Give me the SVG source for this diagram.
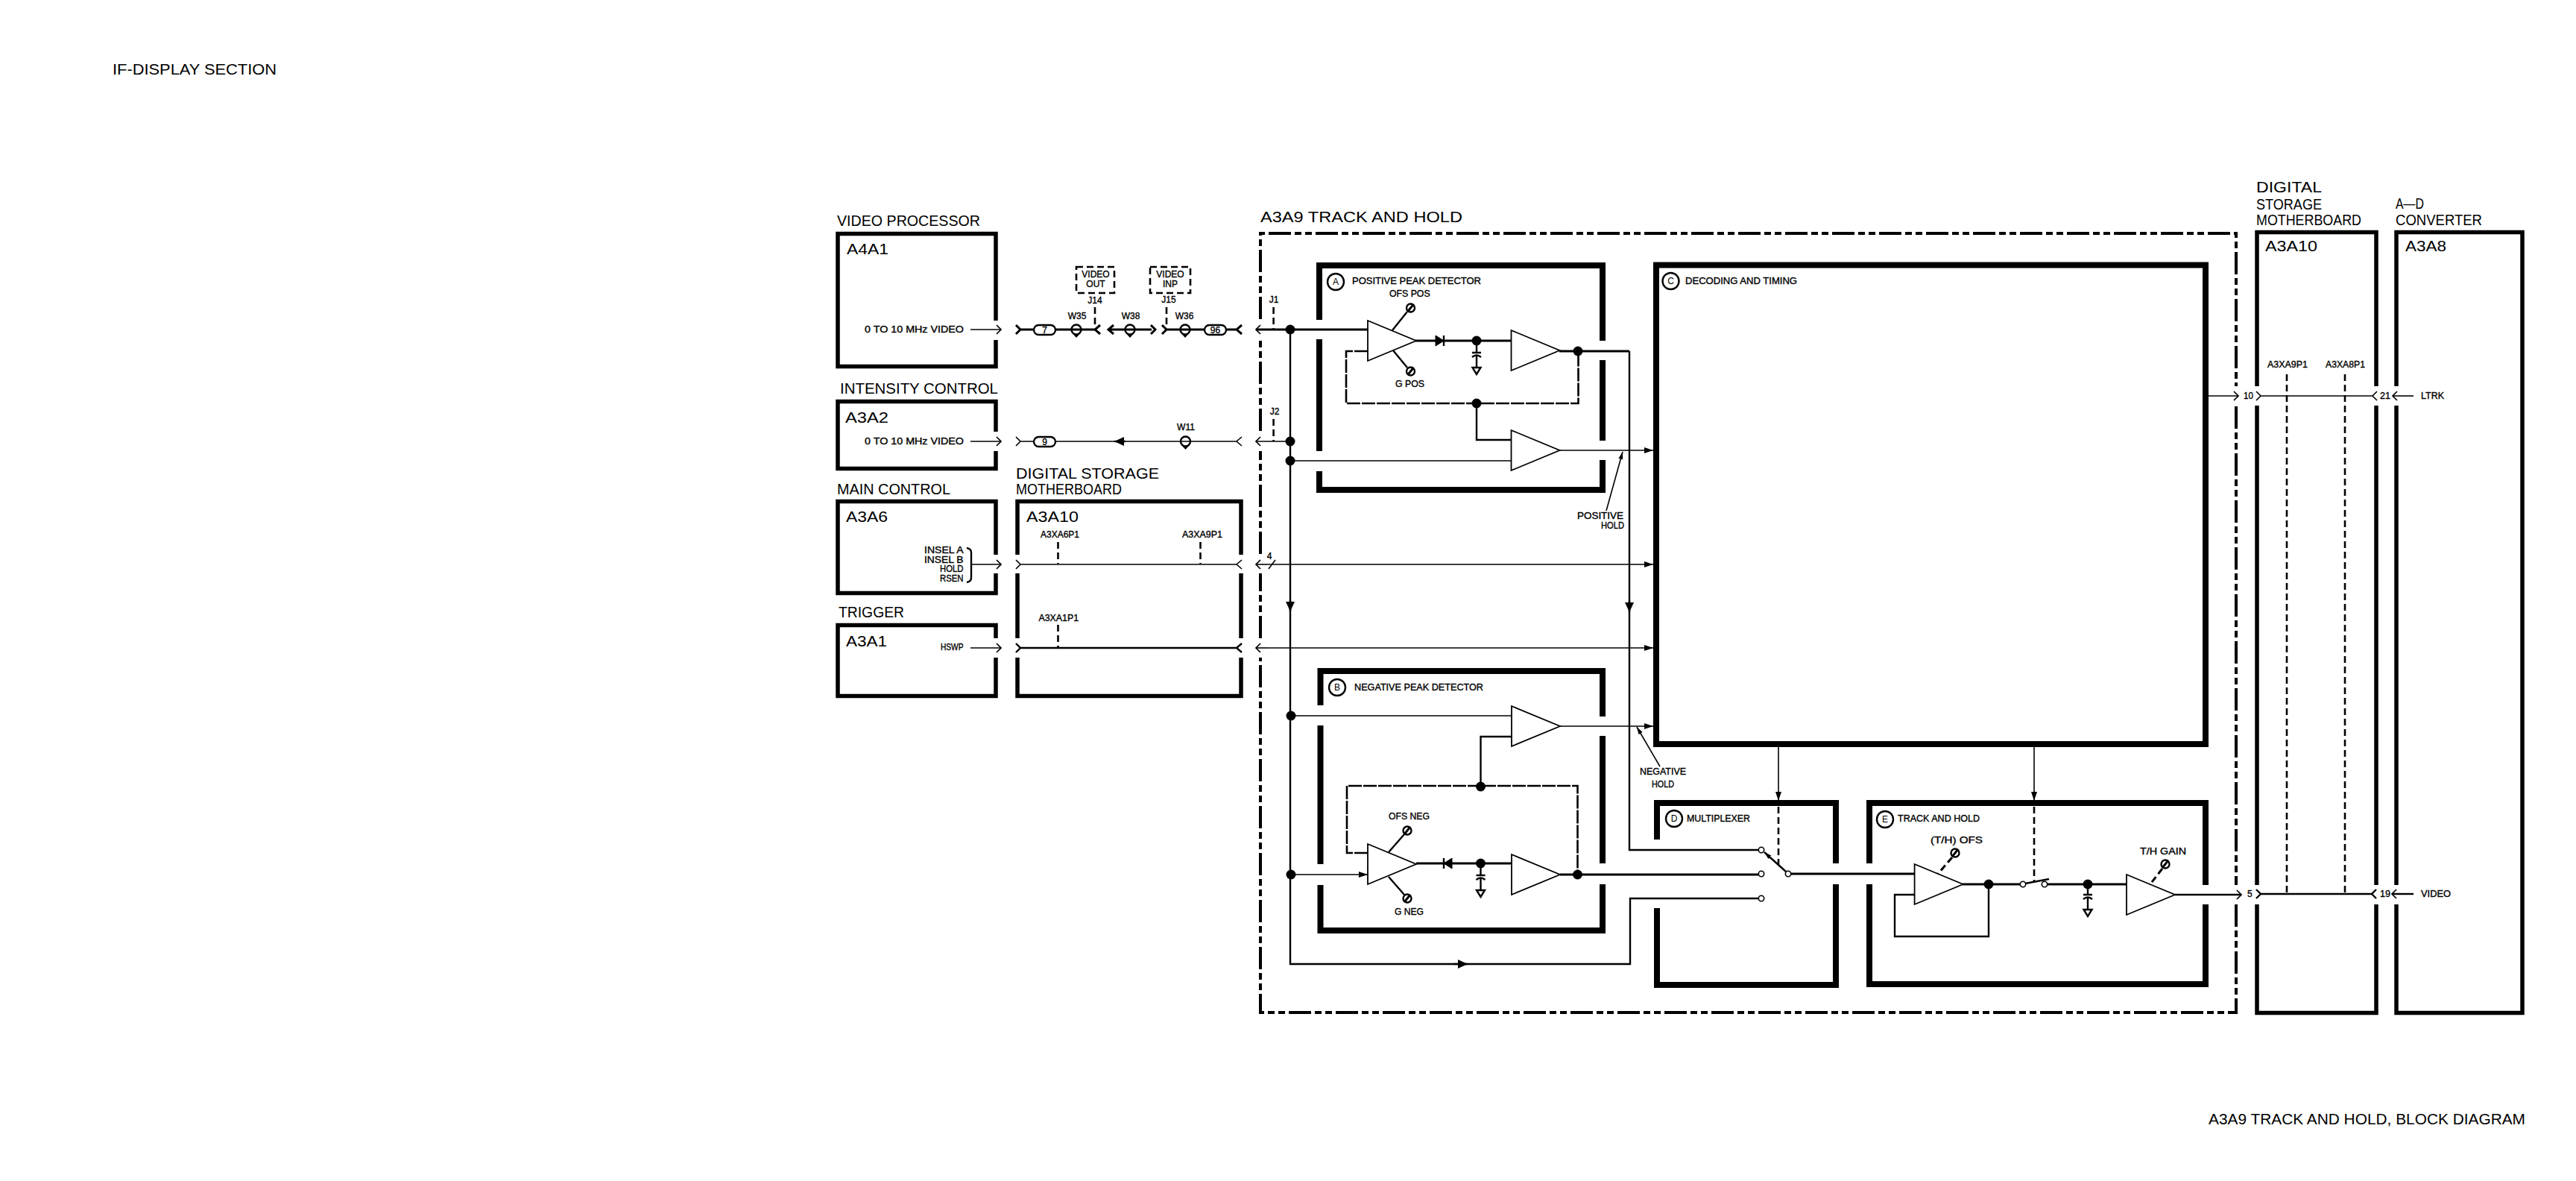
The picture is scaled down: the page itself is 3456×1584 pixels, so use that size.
<svg xmlns="http://www.w3.org/2000/svg" width="3456" height="1584" viewBox="0 0 3456 1584">
<style>
text{font-family:"Liberation Sans",Arial,sans-serif;fill:#000}
.l{font-size:21px}
.b{font-size:20px}
.s{font-size:12px;stroke:#000;stroke-width:.35}
.t{font-size:19.5px}
.m{font-size:12px}
.mid{text-anchor:middle}
path,line,rect,circle,polygon{stroke:#000;fill:none}
.box{stroke-width:5.5}
.thick{stroke-width:8}
.w1{stroke-width:1.6}
.w2{stroke-width:2.4}
.w3{stroke-width:3}
.dot{fill:#000;stroke:none}
.tri{fill:#fff;stroke-width:1.8}
.dash{stroke-width:2.6;stroke-dasharray:9 5}
.fb{stroke-width:2.6;stroke-dasharray:18 2}
.outer{stroke-width:4;stroke-dasharray:30 5 9 5 9 5}
.open{fill:#fff;stroke-width:1.6}
</style>
<defs>
<marker id="o" markerUnits="userSpaceOnUse" markerWidth="14" markerHeight="18" refX="8" refY="9" orient="auto"><path d="M2 3L8 9L2 15" stroke-width="1.7"/></marker>
<marker id="f" markerUnits="userSpaceOnUse" markerWidth="14" markerHeight="12" refX="12" refY="6" orient="auto"><polygon points="0,2 12,6 0,10" style="fill:#000;stroke:none"/></marker>
<marker id="F" markerUnits="userSpaceOnUse" markerWidth="14" markerHeight="14" refX="13" refY="7" orient="auto"><polygon points="0,1 13,7 0,13" style="fill:#000;stroke:none"/></marker>
<marker id="n" markerUnits="userSpaceOnUse" markerWidth="12" markerHeight="8" refX="10" refY="4" orient="auto"><polygon points="0,1 10,4 0,7" style="fill:#000;stroke:none"/></marker>
<path id="amp" class="tri" d="M0 -27L65 0L0 27Z"/>
<g id="coax"><circle r="6.500" class="w2"/><polygon points="-4.500,6 4.500,6 0,11" style="fill:#000;stroke:none"/></g>
<g id="pot"><circle r="5.500" class="w2"/><line x1="-4" y1="5" x2="4" y2="-5" class="w3"/></g>
<g id="cap"><path class="w2" d="M0 0V16M-6 16H6M-6 22Q0 17 6 22M0 20V36M-5.500 36H5.500L0 45Z"/></g>
</defs>

<text x="151" y="100" class="t" textLength="220" lengthAdjust="spacingAndGlyphs">IF-DISPLAY SECTION</text>
<text x="2963" y="1508" class="t" textLength="425" lengthAdjust="spacingAndGlyphs">A3A9 TRACK AND HOLD, BLOCK DIAGRAM</text>

<g id="a4a1">
<path class="box" d="M1336 430V313.500H1124V491.500H1336V456"/>
<text x="1123" y="303" class="l" textLength="192" lengthAdjust="spacingAndGlyphs">VIDEO PROCESSOR</text>
<text x="1136" y="341" class="b" textLength="56" lengthAdjust="spacingAndGlyphs">A4A1</text>
<text x="1160" y="446" class="s" textLength="133" lengthAdjust="spacingAndGlyphs">0 TO 10 MHz VIDEO</text>
</g>
<g id="a3a2">
<path class="box" d="M1336 579V538.500H1124V628.500H1336V605"/>
<text x="1127" y="528" class="l" textLength="212" lengthAdjust="spacingAndGlyphs">INTENSITY CONTROL</text>
<text x="1134" y="567" class="b" textLength="58" lengthAdjust="spacingAndGlyphs">A3A2</text>
<text x="1160" y="596" class="s" textLength="133" lengthAdjust="spacingAndGlyphs">0 TO 10 MHz VIDEO</text>
</g>
<g id="a3a6">
<path class="box" d="M1336 744V672.500H1124V795.500H1336V769"/>
<text x="1123" y="663" class="l" textLength="152" lengthAdjust="spacingAndGlyphs">MAIN CONTROL</text>
<text x="1135" y="700" class="b" textLength="56" lengthAdjust="spacingAndGlyphs">A3A6</text>
<text x="1240" y="742" class="s" textLength="52.500" lengthAdjust="spacingAndGlyphs">INSEL A</text>
<text x="1240" y="755" class="s" textLength="52.500" lengthAdjust="spacingAndGlyphs">INSEL B</text>
<text x="1261" y="767" class="s" textLength="31.500" lengthAdjust="spacingAndGlyphs">HOLD</text>
<text x="1261" y="780" class="s" textLength="31.500" lengthAdjust="spacingAndGlyphs">RSEN</text>
<path class="w2" d="M1297 735Q1303 736 1303 741V775Q1303 780 1297 781"/>
</g>
<g id="a3a1">
<path class="box" d="M1336 856V838.500H1124V933.500H1336V882"/>
<text x="1125" y="828" class="l" textLength="88" lengthAdjust="spacingAndGlyphs">TRIGGER</text>
<text x="1135" y="867" class="b" textLength="55" lengthAdjust="spacingAndGlyphs">A3A1</text>
<text x="1262" y="872" class="s" textLength="30.500" lengthAdjust="spacingAndGlyphs">HSWP</text>
</g>
<g id="a3a10-left">
<path class="box" d="M1365 744V672.500H1665V744M1665 769V856M1665 882V933.500H1365V882M1365 856V769"/>
<text x="1363" y="642" class="l" textLength="192" lengthAdjust="spacingAndGlyphs">DIGITAL STORAGE</text>
<text x="1363" y="663" class="l" textLength="142" lengthAdjust="spacingAndGlyphs">MOTHERBOARD</text>
<text x="1377" y="700" class="b" textLength="70" lengthAdjust="spacingAndGlyphs">A3A10</text>
<text x="1396" y="721" class="s" textLength="52" lengthAdjust="spacingAndGlyphs">A3XA6P1</text>
<text x="1586" y="721" class="s" textLength="54" lengthAdjust="spacingAndGlyphs">A3XA9P1</text>
<text x="1393.500" y="833" class="s" textLength="53.500" lengthAdjust="spacingAndGlyphs">A3XA1P1</text>
<path class="dash" d="M1419.500 727V756M1610.500 727V756M1419.500 838V868"/>
</g>
<g id="video-out">
<rect class="dash" x="1444" y="358" width="51" height="35"/>
<text x="1470" y="372" class="s mid">VIDEO</text>
<text x="1470" y="385" class="s mid">OUT</text>
<text x="1469" y="407" class="s mid">J14</text>
<text x="1445" y="428" class="s mid">W35</text>
<path class="dash" d="M1469 412V440"/>
</g>
<g id="video-inp">
<rect class="dash" x="1543" y="358" width="54" height="35"/>
<text x="1570" y="372" class="s mid">VIDEO</text>
<text x="1570" y="385" class="s mid">INP</text>
<text x="1568" y="406" class="s mid">J15</text>
<text x="1517" y="428" class="s mid">W38</text>
<text x="1589" y="428" class="s mid">W36</text>
<text x="1591" y="577" class="s mid">W11</text>
<path class="dash" d="M1565 412V440"/>
</g>
<g id="outer-a3a9">
<path class="outer" d="M1691 428V313H3000V518M3000 545V1187M3000 1213V1358H1691V882M1691 856V769M1691 743V605M1691 578V455"/>
<text x="1691" y="298" class="l" textLength="271" lengthAdjust="spacingAndGlyphs">A3A9 TRACK AND HOLD</text>
<text x="1709" y="406" class="s mid">J1</text>
<text x="1710" y="556" class="s mid">J2</text>
<text x="1703" y="750" class="s mid">4</text>
<path class="dash" d="M1708.600 412V442M1708.600 562V592"/>
</g>
<g id="block-a">
<path class="thick" d="M1770 429V356H2150V457M2150 483V591M2150 617V657H1770V632M1770 605V455"/>
<circle cx="1792" cy="378" r="11" class="w2"/>
<text x="1792" y="382" class="m mid">A</text>
<text x="1814" y="381" class="s" textLength="173" lengthAdjust="spacingAndGlyphs">POSITIVE PEAK DETECTOR</text>
<text x="1864" y="398" class="s" textLength="54.600" lengthAdjust="spacingAndGlyphs">OFS POS</text>
<text x="1872" y="519" class="s" textLength="39" lengthAdjust="spacingAndGlyphs">G POS</text>
<use href="#pot" x="1892.500" y="413"/>
<use href="#pot" x="1892.500" y="498"/>
<path class="w2" d="M1888 418L1868 443M1888 493L1869 470"/>
<use href="#amp" x="1835" y="457"/>
<use href="#amp" x="2027.500" y="470"/>
<use href="#amp" x="2027.500" y="604"/>
<polygon points="1926,450 1937,457 1926,464" style="fill:#000"/>
<line x1="1937" y1="450" x2="1937" y2="464" class="w2"/>
<use href="#cap" x="1981" y="457"/>
<circle class="dot" cx="1981" cy="457" r="6.500"/>
<circle class="dot" cx="2117" cy="471" r="6.500"/>
<circle class="dot" cx="1981" cy="541" r="6.500"/>
</g>
<g id="block-b">
<path class="thick" d="M1771.500 946V900H2150V961M2150 987V1158M2150 1186V1248H1771.500V1187M1771.500 1159V973"/>
<circle cx="1794" cy="922" r="11" class="w2"/>
<text x="1794" y="926" class="m mid">B</text>
<text x="1817" y="926" class="s" textLength="173" lengthAdjust="spacingAndGlyphs">NEGATIVE PEAK DETECTOR</text>
<text x="1863" y="1099" class="s" textLength="55" lengthAdjust="spacingAndGlyphs">OFS NEG</text>
<text x="1871" y="1227" class="s" textLength="39" lengthAdjust="spacingAndGlyphs">G NEG</text>
<use href="#pot" x="1888" y="1114"/>
<use href="#pot" x="1888" y="1205"/>
<path class="w2" d="M1884 1119L1863 1143M1884 1200L1863 1176"/>
<use href="#amp" x="2028" y="974"/>
<use href="#amp" x="1835" y="1159"/>
<use href="#amp" x="2028" y="1173"/>
<polygon points="1948,1151 1937,1158 1948,1165" style="fill:#000"/>
<line x1="1937" y1="1151" x2="1937" y2="1165" class="w2"/>
<use href="#cap" x="1986.500" y="1158"/>
<circle class="dot" cx="1986.500" cy="1158" r="6.500"/>
<circle class="dot" cx="2116.500" cy="1173" r="6.500"/>
<circle class="dot" cx="1986.500" cy="1055" r="6.500"/>
</g>
<g id="block-c">
<rect class="thick" x="2222" y="355.500" width="737" height="642.500"/>
<circle cx="2241.500" cy="377" r="11" class="w2"/>
<text x="2241.500" y="381" class="m mid">C</text>
<text x="2261" y="381" class="s" textLength="150" lengthAdjust="spacingAndGlyphs">DECODING AND TIMING</text>
<text x="2116" y="696" class="s" textLength="62" lengthAdjust="spacingAndGlyphs">POSITIVE</text>
<text x="2148" y="709" class="s" textLength="31" lengthAdjust="spacingAndGlyphs">HOLD</text>
<text x="2200" y="1039" class="s" textLength="62" lengthAdjust="spacingAndGlyphs">NEGATIVE</text>
<text x="2216" y="1056" class="s" textLength="30" lengthAdjust="spacingAndGlyphs">HOLD</text>
</g>
<g id="block-d">
<path class="thick" d="M2223 1126V1077H2463V1158M2463 1186V1321H2223V1218"/>
<circle cx="2246" cy="1098" r="11" class="w2"/>
<text x="2246" y="1102" class="m mid">D</text>
<text x="2263" y="1102" class="s" textLength="85" lengthAdjust="spacingAndGlyphs">MULTIPLEXER</text>
</g>
<g id="block-e">
<path class="thick" d="M2508 1158V1077H2959V1187M2959 1213V1320H2508V1186"/>
<circle cx="2529" cy="1099" r="11" class="w2"/>
<text x="2529" y="1103" class="m mid">E</text>
<text x="2546" y="1102" class="s" textLength="110" lengthAdjust="spacingAndGlyphs">TRACK AND HOLD</text>
<text x="2590" y="1131" class="s" textLength="70" lengthAdjust="spacingAndGlyphs">(T/H) OFS</text>
<text x="2871" y="1146" class="s" textLength="62" lengthAdjust="spacingAndGlyphs">T/H GAIN</text>
<use href="#pot" x="2623" y="1144"/>
<use href="#pot" x="2905" y="1159"/>
<path class="w3" stroke-dasharray="9 5" d="M2619 1150L2600 1172M2901 1165L2884 1187"/>
<use href="#amp" x="2568.600" y="1186"/>
<use href="#amp" x="2853" y="1200"/>
<use href="#cap" x="2801" y="1184"/>
<circle class="dot" cx="2668" cy="1186" r="6.500"/>
<circle class="dot" cx="2801" cy="1186" r="6.500"/>
</g>
<g id="a3a10-right">
<path class="box" d="M3028 518V311.500H3188V518M3188 544V1187M3188 1213V1358.500H3028V1213M3028 1187V544"/>
<text x="3027" y="258" class="l" textLength="88" lengthAdjust="spacingAndGlyphs">DIGITAL</text>
<text x="3027" y="281" class="l" textLength="88" lengthAdjust="spacingAndGlyphs">STORAGE</text>
<text x="3027" y="302" class="l" textLength="141" lengthAdjust="spacingAndGlyphs">MOTHERBOARD</text>
<text x="3039" y="337" class="b" textLength="70" lengthAdjust="spacingAndGlyphs">A3A10</text>
<text x="3042" y="493" class="s" textLength="54" lengthAdjust="spacingAndGlyphs">A3XA9P1</text>
<text x="3120" y="493" class="s" textLength="53" lengthAdjust="spacingAndGlyphs">A3XA8P1</text>
<text x="3010" y="535" class="s" textLength="13" lengthAdjust="spacingAndGlyphs">10</text>
<text x="3193" y="535" class="s" textLength="14" lengthAdjust="spacingAndGlyphs">21</text>
<text x="3015" y="1203" class="s">5</text>
<text x="3193" y="1203" class="s" textLength="14" lengthAdjust="spacingAndGlyphs">19</text>
<path class="dash" d="M3068 502V1197M3146 502V1197"/>
</g>
<g id="a3a8">
<path class="box" d="M3215 518V311.500H3384V1358.500H3215V1213M3215 1187V544"/>
<text x="3214" y="280" class="l" textLength="38" lengthAdjust="spacingAndGlyphs">A—D</text>
<text x="3214" y="302" class="l" textLength="116" lengthAdjust="spacingAndGlyphs">CONVERTER</text>
<text x="3227" y="337" class="b" textLength="55" lengthAdjust="spacingAndGlyphs">A3A8</text>
<text x="3248" y="535" class="s" textLength="31" lengthAdjust="spacingAndGlyphs">LTRK</text>
<text x="3248" y="1203" class="s" textLength="40" lengthAdjust="spacingAndGlyphs">VIDEO</text>
</g>

<g id="connectors">
<line class="w1" x1="1302" y1="442" x2="1343" y2="442" marker-end="url(#o)"/>
<line class="w1" x1="1302" y1="592" x2="1343" y2="592" marker-end="url(#o)"/>
<line class="w1" x1="1303" y1="757" x2="1343" y2="757" marker-end="url(#o)"/>
<line class="w1" x1="1302" y1="869" x2="1343" y2="869" marker-end="url(#o)"/>
<path class="w3" d="M1363 436L1369 442L1363 448M1369 442H1387M1416 442H1469M1476 436L1469 442L1476 448"/>
<path class="w3" d="M1494 436L1487 442L1494 448M1487 442H1545M1544 436L1550 442L1544 448"/>
<path class="w3" d="M1559 436L1565 442L1559 448M1565 442H1616M1645 442H1659M1666 436L1659 442L1666 448"/>
<rect class="w2" x="1387" y="436" width="29" height="13" rx="6.500"/>
<text x="1401.500" y="446.500" class="s mid">7</text>
<rect class="w2" x="1616" y="436" width="29" height="13" rx="6.500"/>
<text x="1630.500" y="446.500" class="s mid">96</text>
<use href="#coax" x="1444" y="442"/>
<use href="#coax" x="1516" y="442"/>
<use href="#coax" x="1590" y="442"/>
<path class="w1" d="M1363 586L1369 592L1363 598M1369 592H1387M1416 592H1659M1666 586L1659 592L1666 598"/>
<rect class="w2" x="1387" y="586" width="29" height="13" rx="6.500"/>
<text x="1401.500" y="596.500" class="s mid">9</text>
<path class="w2" d="M1510 592H1495" marker-end="url(#F)"/>
<use href="#coax" x="1590.500" y="592"/>
<path class="w1" d="M1363 751L1369 757L1363 763M1369 757H1659M1666 751L1659 757L1666 763"/>
<path class="w2" d="M1363 863L1369 869L1363 875M1369 869H1659M1666 863L1659 869L1666 875"/>

<path class="w3" d="M1731 442H1835"/>
<line class="w3" x1="1731" y1="442" x2="1685" y2="442" marker-end="url(#o)"/>
<line class="w1" x1="1731" y1="592" x2="1685" y2="592" marker-end="url(#o)"/>
<line class="w1" x1="1700" y1="757" x2="1685" y2="757" marker-end="url(#o)"/>
<line class="w1" x1="1700" y1="869" x2="1685" y2="869" marker-end="url(#o)"/>
<line class="w1" x1="1700" y1="757" x2="2218" y2="757" marker-end="url(#f)"/>
<line class="w1" x1="1700" y1="869" x2="2218" y2="869" marker-end="url(#f)"/>
<path class="w1" d="M1702 763L1711 751"/>
<path class="w2" d="M1731 442V1293H2187V1205H2359"/>
<path class="w2" d="M1731 805V820" marker-end="url(#F)"/>
<path class="w2" d="M1950 1293H1969" marker-end="url(#F)"/>
<path class="w3" d="M2092 471H2186"/>
<path class="w2" d="M2186 471V1140H2359"/>
<path class="w2" d="M2186 805V821" marker-end="url(#F)"/>
<path class="w3" d="M1899 457H2028"/>
<path class="fb" d="M1835 471H1806V541H2117.500V471"/>
<path class="w2" d="M1981 541V590H2027"/>
<line class="w1" x1="2092" y1="604" x2="2218" y2="604" marker-end="url(#f)"/>
<path class="w1" d="M1731 618H2027"/>
<path class="w1" d="M2155 685L2177 606" marker-end="url(#n)"/>

<path class="w1" d="M1732 960H2028"/>
<line class="w1" x1="2093" y1="974" x2="2218" y2="974" marker-end="url(#f)"/>
<path class="w2" d="M1986.500 1055V988H2028"/>
<path class="fb" d="M1835 1144H1807V1054H2116.500V1173"/>
<line class="w1" x1="1732" y1="1173" x2="1835" y2="1173" marker-end="url(#f)"/>
<path class="w3" d="M1900 1158H2028"/>
<path class="w3" d="M2093 1173H2359"/>
<path class="w1" d="M2227 1028L2196 975" marker-end="url(#n)"/>

<circle class="dot" cx="1731" cy="442" r="6.500"/>
<circle class="dot" cx="1731" cy="592" r="6.500"/>
<circle class="dot" cx="1731" cy="618" r="6.500"/>
<circle class="dot" cx="1732" cy="960" r="6.500"/>
<circle class="dot" cx="1732" cy="1173" r="6.500"/>

<line class="w1" x1="2386" y1="1002" x2="2386" y2="1074" marker-end="url(#f)"/>
<line class="w1" x1="2729" y1="1002" x2="2729" y2="1074" marker-end="url(#f)"/>
<path class="dash" d="M2386 1082V1160M2729 1082V1182"/>
<circle class="open" cx="2363" cy="1140" r="3.700"/>
<circle class="open" cx="2363" cy="1172" r="3.700"/>
<circle class="open" cx="2363" cy="1205" r="3.700"/>
<circle class="open" cx="2399" cy="1172" r="3.700"/>
<path class="w2" d="M2396 1169L2367 1143" marker-end="url(#n)"/>
<path class="w3" d="M2403 1172H2569"/>
<path class="w2" d="M2568 1200H2542V1256H2668V1186"/>
<path class="w3" d="M2633 1186H2710M2747 1186H2853"/>
<circle class="open" cx="2714" cy="1186" r="3.700"/>
<circle class="open" cx="2743" cy="1186" r="3.700"/>
<path class="w2" d="M2717 1185L2749 1179"/>
<line class="w2" x1="2918" y1="1200" x2="3007" y2="1200" marker-end="url(#o)"/>

<line class="w1" x1="2963" y1="531" x2="3003" y2="531" marker-end="url(#o)"/>
<path class="w1" d="M3027 525L3033 531L3027 537M3033 531H3183M3189 525L3183 531L3189 537"/>
<line class="w1" x1="3238" y1="531" x2="3210" y2="531" marker-end="url(#o)"/>
<path class="w2" d="M3027 1193L3033 1199L3027 1205M3033 1199H3183M3188 1193L3182 1199L3188 1205"/>
<line class="w2" x1="3238" y1="1199" x2="3209" y2="1199" marker-end="url(#o)"/>
</g>
</svg>
